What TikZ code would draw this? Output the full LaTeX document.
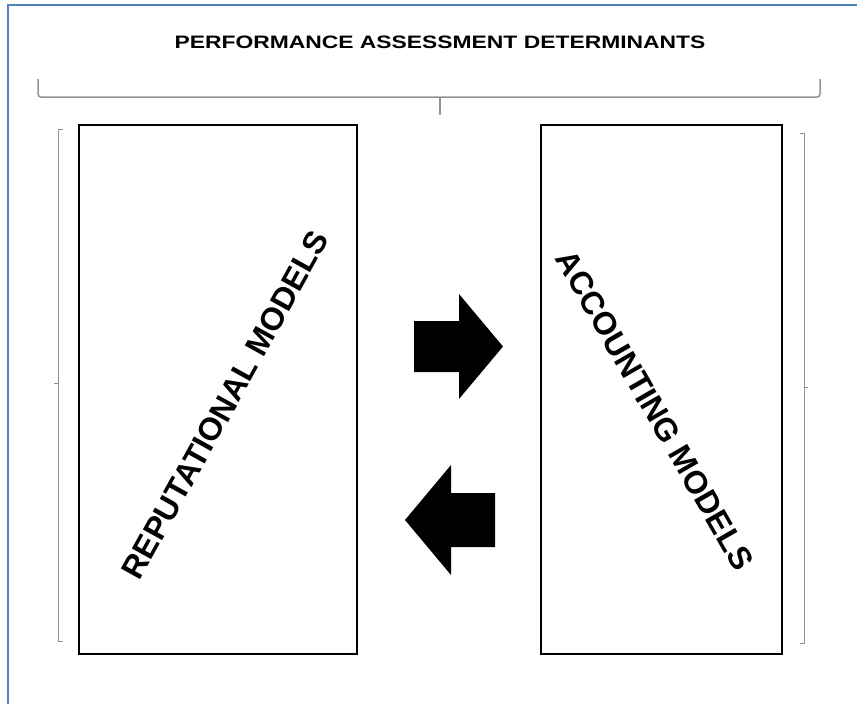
\documentclass[tikz,border=0pt]{standalone}
\usepackage{fontspec}
\setmainfont{Liberation Sans}
\definecolor{frameblue}{HTML}{4F81BD}
\begin{document}
\begin{tikzpicture}[x=1pt, y=-1pt, line width=0.5pt,
  box/.style={draw, line width=2pt, inner sep=0pt},
  bracket/.style={draw=gray!85, line width=1pt},
  big/.style={font=\bfseries\fontsize{32}{32}\selectfont}]
  \useasboundingbox (0,0) rectangle (857,704);
  \draw[frameblue, line width=1.5pt] (8,720) -- (8,5) -- (870,5);

  \node (title) at (440,42) {\scalebox{1.27}[1]{\bfseries\fontsize{18}{18}\selectfont PERFORMANCE ASSESSMENT DETERMINANTS}};

  % brace under the title
  \draw[bracket, line width=1.5pt, rounded corners=3pt] (38,79) -- (38,97) -- (820,97) -- (820,79);
  \draw[bracket, line width=1.5pt] (440,97) -- (440,115);

  \node[box, minimum width=278pt, minimum height=529pt] (rep) at (218,389.5) {};
  \node[box, minimum width=241pt, minimum height=529pt] (acc) at (661.5,389.5) {};

  \node[big, rotate=61] (reptext) at (225,405) {REPUTATIONAL MODELS};
  \node[big, rotate=-60] (acctext) at (655,410) {ACCOUNTING MODELS};

  % side brackets
  \draw[bracket] (63,129) -- (58,129) -- (58,641) -- (63,641);
  \draw[bracket] (58,383) -- (54,383);
  \draw[bracket] (800,133) -- (804,133) -- (804,643) -- (800,643);
  \draw[bracket] (804,387) -- (808,387);

  % block arrows
  \fill (414,321) -- (459,321) -- (459,294) -- (503,346.5) -- (459,399) -- (459,372) -- (414,372) -- cycle;
  \fill (495,493) -- (451,493) -- (451,465) -- (405,520) -- (451,575) -- (451,547) -- (495,547) -- cycle;
\end{tikzpicture}
\end{document}
